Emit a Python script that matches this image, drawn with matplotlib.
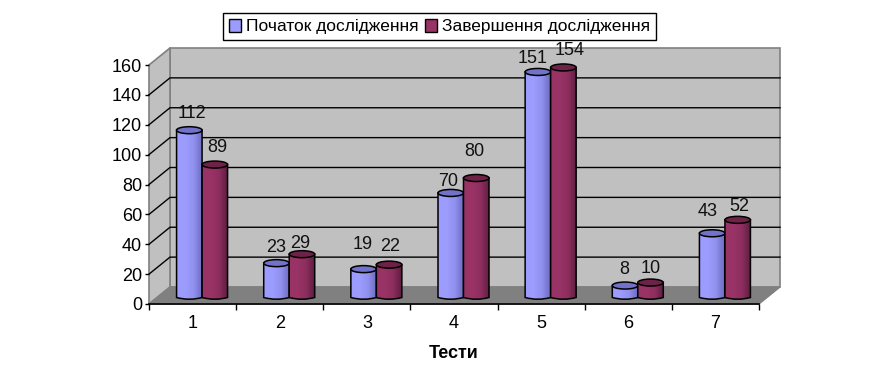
import matplotlib
matplotlib.use("Agg")
import matplotlib.pyplot as plt
import numpy as np
from matplotlib.patches import Ellipse, PathPatch, Patch, Polygon
from matplotlib.path import Path
from matplotlib.colors import LinearSegmentedColormap

plt.rcParams['font.family'] = ['Liberation Sans', 'DejaVu Sans']

categories = [1, 2, 3, 4, 5, 6, 7]
start_values = [112, 23, 19, 70, 151, 8, 43]
end_values = [89, 29, 22, 80, 154, 10, 52]
series_names = ["Початок дослідження", "Завершення дослідження"]
yticks = [0, 20, 40, 60, 80, 100, 120, 140, 160]

# label nudges in pixels, the labels sit rather freely in the original
start_nudge = [(3, 17), (0, 16), (-1, 25), (-3, 11), (-5, 13), (-1, 16), (-5, 22)]
end_nudge = [(2, 17), (-2, 11), (1, 18), (-2, 26), (6, 17), (0, 14), (2, 13)]

W, H = 882, 389
fig = plt.figure(figsize=(W / 100, H / 100), dpi=100)
ax = fig.add_axes([149 / W, (H - 304) / H, (759 - 149) / W, (304 - 65) / H])
ax.set_xlim(0.5, 7.5)
ax.set_ylim(0, 160)

xpx = (759 - 149) / 7
ypx = (304 - 65) / 160
depth_x = 21 / xpx
depth_y = 17 / ypx
shift_x = 9.5 / xpx
shift_y = 6.5 / ypx
bar_w = 25.5 / xpx
cap_h = 7 / ypx

x0, x1 = ax.get_xlim()
wall_edge = '#808080'

# back wall, side wall, floor
ax.add_patch(Polygon([(x0 + depth_x, depth_y), (x1 + depth_x, depth_y), (x1 + depth_x, 160 + depth_y), (x0 + depth_x, 160 + depth_y)],
                     fc='#C0C0C0', ec=wall_edge, lw=1.2, clip_on=False, zorder=1))
ax.add_patch(Polygon([(x0, 0), (x0 + depth_x, depth_y), (x0 + depth_x, 160 + depth_y), (x0, 160)],
                     fc='#C0C0C0', ec=wall_edge, lw=1.2, clip_on=False, zorder=1))
ax.add_patch(Polygon([(x0, 0), (x1, 0), (x1 + depth_x, depth_y), (x0 + depth_x, depth_y)],
                     fc='#808080', ec=wall_edge, lw=1, clip_on=False, zorder=1))

for t in yticks[1:-1]:
    ax.plot([x0, x0 + depth_x, x1 + depth_x], [t, t + depth_y, t + depth_y], color='black', lw=1, clip_on=False, zorder=2)


def cylinder(xc, value, colors, cap_color, z):
    left = xc - bar_w / 2
    right = xc + bar_w / 2
    base = shift_y
    sag = cap_h * 0.5
    top = value + shift_y
    verts = [(left, top), (left, base), (xc, base - sag), (right, base), (right, top), (left, top)]
    codes = [Path.MOVETO, Path.LINETO, Path.CURVE3, Path.CURVE3, Path.LINETO, Path.CLOSEPOLY]
    outline = PathPatch(Path(verts, codes), fc='none', ec='black', lw=1.1, zorder=z + 0.2, clip_on=False)
    ax.add_patch(outline)
    cmap = LinearSegmentedColormap.from_list("", colors)
    shade = np.linspace(0, 1, 26).reshape(1, -1)
    img = ax.imshow(shade, cmap=cmap, extent=(left, right, base - sag, top), aspect='auto', zorder=z, interpolation='nearest')
    img.set_clip_path(outline)
    ax.add_patch(Ellipse((xc, top), bar_w, cap_h, fc=cap_color, ec='black', lw=1.1, zorder=z + 0.3, clip_on=False))


blue = ['#9C9CFF', '#9C9CFF', '#9090EE', '#6C6CC0']
maroon = ['#993366', '#993366', '#8C2E5E', '#5E1E40']

for i, cat in enumerate(categories):
    xc = cat + shift_x
    cylinder(xc - bar_w / 2, start_values[i], blue, '#7272C8', 5)
    cylinder(xc + bar_w / 2, end_values[i], maroon, '#6E2248', 6)
    ax.annotate(str(start_values[i]), (xc - bar_w / 2, start_values[i] + shift_y), xytext=start_nudge[i],
                textcoords='offset pixels', ha='center', va='center', fontsize=13, color='#111111', zorder=10)
    ax.annotate(str(end_values[i]), (xc + bar_w / 2, end_values[i] + shift_y), xytext=end_nudge[i],
                textcoords='offset pixels', ha='center', va='center', fontsize=13, color='#111111', zorder=10)

ax.set_xlim(x0, x1)
ax.set_ylim(0, 160)

for s in ['top', 'right']:
    ax.spines[s].set_visible(False)
ax.spines['left'].set_visible(False)
ax.spines['bottom'].set_linewidth(1.2)
ax.spines['bottom'].set_zorder(3)
ax.patch.set_visible(False)

ax.set_yticks(yticks)
ax.tick_params(axis='y', length=3, width=1, labelsize=13, pad=2)
ax.set_xticks(categories)
ax.set_xticks(np.arange(0.5, 8), minor=True)
ax.tick_params(axis='x', which='major', length=0, labelsize=13, pad=8)
ax.tick_params(axis='x', which='minor', length=4, width=1)
ax.set_xlabel("Тести", fontweight='bold', fontsize=13, labelpad=9)

handles = [Patch(fc='#9C9CFF', ec='black'), Patch(fc='#993366', ec='black')]
fig.legend(handles, series_names, ncol=2, loc='center', bbox_to_anchor=(439.5 / W, (H - 26.5) / H), fontsize=12.5,
           fancybox=False, edgecolor='black', framealpha=1, handlelength=0.7, handleheight=0.8,
           handletextpad=0.25, columnspacing=0.4, borderpad=0.35, borderaxespad=0)

fig.savefig('out.png', dpi=100)
